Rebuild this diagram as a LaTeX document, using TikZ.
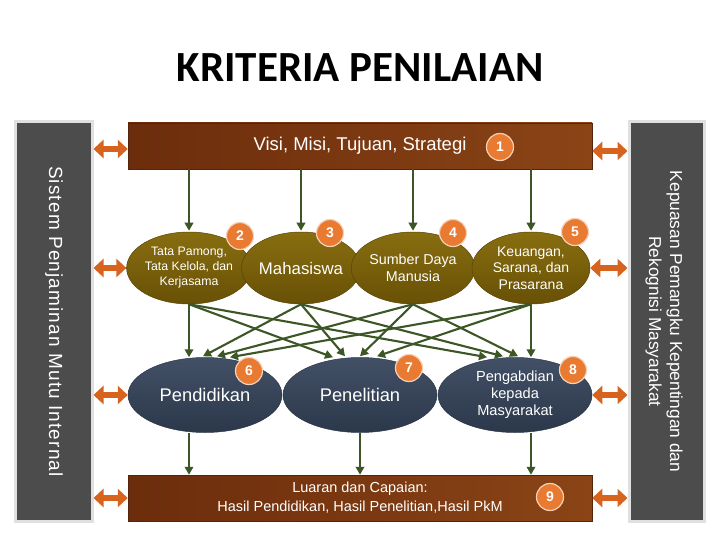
\documentclass[tikz,border=0pt]{standalone}
\usepackage{fontspec}
\setmainfont{Liberation Sans}
\newfontfamily\titlefont{Carlito}
\newfontfamily\spacedfont[LetterSpace=6]{Liberation Sans}
\usetikzlibrary{shapes.geometric,arrows.meta,calc}
\definecolor{brownA}{RGB}{108,45,12}
\definecolor{brownB}{RGB}{138,68,22}
\definecolor{oliveA}{RGB}{136,110,16}
\definecolor{oliveB}{RGB}{104,80,6}
\definecolor{navyA}{RGB}{66,80,102}
\definecolor{navyB}{RGB}{44,55,74}
\definecolor{greenC}{RGB}{60,86,38}
\definecolor{orangeC}{RGB}{214,100,30}
\definecolor{badgeC}{RGB}{232,122,50}
\definecolor{panelC}{RGB}{76,76,76}
\begin{document}
\begin{tikzpicture}[x=1pt,y=-1pt,
  bar/.style={rectangle, minimum width=464pt, minimum height=46pt, inner sep=0,
    left color=brownA, right color=brownB, draw=brownA!80!black, line width=0.5pt,
    text=white, align=center},
  olv/.style={ellipse, inner sep=0, minimum height=72pt, top color=oliveA, bottom color=oliveB,
    draw=oliveB!85!black, line width=0.5pt, text=white, align=center},
  nav/.style={ellipse, inner sep=0, minimum width=154pt, minimum height=75pt,
    top color=navyA, bottom color=navyB, draw=navyB, line width=0.5pt,
    text=white, align=center},
  badge/.style={circle, minimum size=27pt, inner sep=0, fill=badgeC,
    draw=white!65!badgeC, line width=1.2pt, text=white,
    font=\bfseries\fontsize{14}{14}\selectfont},
  panel/.style={rectangle, inner sep=0, fill=panelC, draw=white!88!black, line width=3pt,
    text=white, align=center},
  garrow/.style={draw=greenC, line width=2.1pt, -{Triangle[length=8pt,width=8.5pt]}},
  oarrow/.style={draw=orangeC, line width=6.5pt,
    {Triangle[length=10pt,width=18pt]}-{Triangle[length=10pt,width=18pt]}}
]
\useasboundingbox (0,0) rectangle (720,540);

% title
\node[font=\titlefont\bfseries\fontsize{43}{45}\selectfont] (title) at (360,68) {KRITERIA PENILAIAN};

% side panels
\node[panel, minimum width=77pt, minimum height=399pt] (lp) at (53.5,321.5) {};
\node[rotate=-90, text=white, font=\spacedfont\fontsize{19}{22}\selectfont] (lpt) at (54,321.5) {Sistem Penjaminan Mutu Internal};
\node[panel, minimum width=75pt, minimum height=399pt] (rp) at (666.5,321.5) {};
\node[rotate=-90, text=white, align=center, font=\fontsize{17.3}{21}\selectfont] (rpt) at (664,321.5)
  {Kepuasan Pemangku Kepentingan dan\\Rekognisi Masyarakat};

% bars
\node[bar, font=\fontsize{18.5}{20}\selectfont] (tbar) at (360,146) {Visi, Misi, Tujuan, Strategi};
\node[bar, font=\fontsize{14.5}{19}\selectfont] (bbar) at (360,498)
  {Luaran dan Capaian:\\Hasil Pendidikan, Hasil Penelitian,Hasil PkM};

% top ellipses
\node[olv, minimum width=116pt, font=\fontsize{12.3}{15}\selectfont] (e2) at (189,268)
  {Tata Pamong,\\Tata Kelola, dan\\Kerjasama};
\node[olv, minimum width=104pt, font=\fontsize{16.8}{18}\selectfont] (e3) at (301,268) {Mahasiswa};
\node[olv, minimum width=118pt, font=\fontsize{14.3}{17}\selectfont] (e4) at (413,268)
  {Sumber Daya\\Manusia};
\node[olv, minimum width=118pt, font=\fontsize{14}{16.5}\selectfont] (e5) at (531,268)
  {Keuangan,\\Sarana, dan\\Prasarana};

% bottom ellipses
\node[nav, font=\fontsize{18.3}{20}\selectfont] (e6) at (205,395) {Pendidikan};
\node[nav, font=\fontsize{18.3}{20}\selectfont] (e7) at (360,395) {Penelitian};
\node[nav, font=\fontsize{14.6}{17}\selectfont] (e8) at (515,395) {Pengabdian\\kepada\\Masyarakat};

% badges
\node[badge] (b1) at (500,147) {1};
\node[badge] (b2) at (240,236) {2};
\node[badge] (b3) at (330,233) {3};
\node[badge] (b4) at (453,233) {4};
\node[badge] (b5) at (575,232) {5};
\node[badge] (b6) at (249,371) {6};
\node[badge] (b7) at (409,368) {7};
\node[badge] (b8) at (573,370) {8};
\node[badge] (b9) at (550,497) {9};

% bar to top ellipses
\foreach \e in {e2,e3,e4,e5}
  \draw[garrow] (tbar.south -| \e.north) -- ($(\e.north)+(0,-1)$);

% cross connectors
\draw[garrow] (e2.south) -- (e2.south |- e6.north);
\draw[garrow] (e3.south) -- ($(e6.north)+(-2,-1)$);
\draw[garrow] (e4.south) -- ($(e6.north)+(12,-1)$);
\draw[garrow] (e5.south) -- ($(e6.north)+(25,0)$);
\draw[garrow] (e2.south) -- ($(e7.north)+(-27,0)$);
\draw[garrow] (e3.south) -- ($(e7.north)+(-15,-1)$);
\draw[garrow] (e4.south) -- ($(e7.north)+(0,-1)$);
\draw[garrow] (e5.south) -- ($(e7.north)+(17,-1)$);
\draw[garrow] (e2.south) -- ($(e8.north)+(-28,0)$);
\draw[garrow] (e3.south) -- ($(e8.north)+(-12,-1)$);
\draw[garrow] (e4.south) -- ($(e8.north)+(3,-1)$);
\draw[garrow] (e5.south) -- (e5.south |- e8.north);

% bottom ellipses to bar
\draw[garrow] (e2.south |- e6.south) -- (e2.south |- bbar.north);
\draw[garrow] (e7.south) -- (e7.south |- bbar.north);
\draw[garrow] (e5.south |- e8.south) -- (e5.south |- bbar.north);

% orange double arrows, left
\draw[oarrow] (lp.east |- 0,149) -- (tbar.west |- 0,149);
\draw[oarrow] (lp.east |- e2.west) -- (e2.west);
\draw[oarrow] (lp.east |- e6.west) -- (e6.west);
\draw[oarrow] (lp.east |- bbar.west) -- (bbar.west);
% right
\draw[oarrow] (tbar.east |- 0,151) -- (rp.west |- 0,151);
\draw[oarrow] (e5.east) -- (rp.west |- e5.east);
\draw[oarrow] (e8.east) -- (rp.west |- e8.east);
\draw[oarrow] (bbar.east) -- (rp.west |- bbar.east);
\end{tikzpicture}
\end{document}
